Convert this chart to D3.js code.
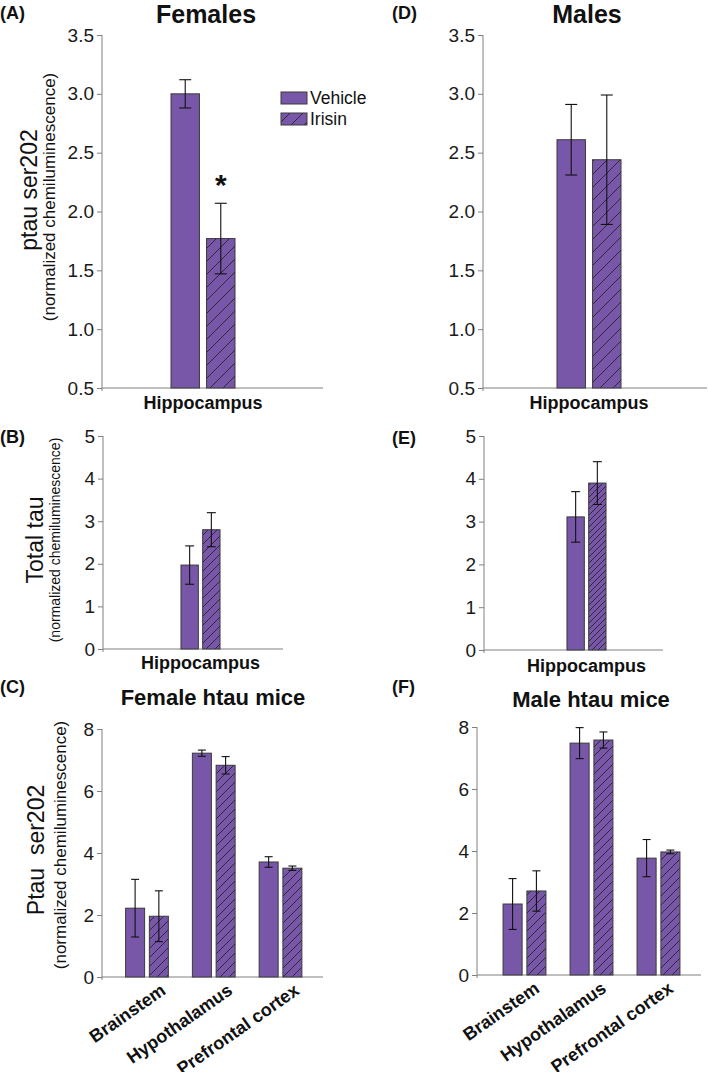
<!DOCTYPE html>
<html>
<head>
<meta charset="utf-8">
<script src="https://cdn.jsdelivr.net/npm/d3@7"></script>
<style>
  html, body { margin: 0; padding: 0; background: #fff; }
  svg { display: block; font-family: "Liberation Sans", Arial, sans-serif; }
</style>
</head>
<body>
<svg id="chart" width="709" height="1072"></svg>
<script>
// ---------------- data ----------------
const series = ["Vehicle", "Irisin"];
const hippoCategory = ["Hippocampus"];
const regions = ["Brainstem", "Hypothalamus", "Prefrontal cortex"];

const ptauTicks = [0.5, 1.0, 1.5, 2.0, 2.5, 3.0, 3.5];
const totalTauTicks = [0, 1, 2, 3, 4, 5];
const htauTicks = [0, 2, 4, 6, 8];

// (A) Females ptau ser202, hippocampus
const femPtauVehicle = [3.00];
const femPtauVehicleErr = [0.12];
const femPtauIrisin = [1.77];
const femPtauIrisinErr = [0.30];

// (D) Males ptau ser202, hippocampus
const malePtauVehicle = [2.61];
const malePtauVehicleErr = [0.30];
const malePtauIrisin = [2.44];
const malePtauIrisinErr = [0.55];

// (B) Females total tau
const femTotalVehicle = [1.97];
const femTotalVehicleErr = [0.45];
const femTotalIrisin = [2.80];
const femTotalIrisinErr = [0.40];

// (E) Males total tau
const maleTotalVehicle = [3.11];
const maleTotalVehicleErr = [0.59];
const maleTotalIrisin = [3.90];
const maleTotalIrisinErr = [0.50];

// (C) Female htau mice
const femHtauVehicle = [2.22, 7.22, 3.71];
const femHtauVehicleErr = [0.93, 0.10, 0.17];
const femHtauIrisin = [1.96, 6.83, 3.51];
const femHtauIrisinErr = [0.82, 0.28, 0.07];

// (F) Male htau mice
const maleHtauVehicle = [2.29, 7.48, 3.77];
const maleHtauVehicleErr = [0.82, 0.50, 0.60];
const maleHtauIrisin = [2.71, 7.58, 3.97];
const maleHtauIrisinErr = [0.65, 0.26, 0.06];

// ---------------- style ----------------
const PURPLE = "#7857a8";
const AXIS = "#808080";
const FONT_BOLD = 700;

const svg = d3.select("#chart");
const defs = svg.append("defs");

function hatch(id, s) {
  const p = defs.append("pattern")
    .attr("id", id).attr("patternUnits", "userSpaceOnUse")
    .attr("width", s).attr("height", s);
  p.append("rect").attr("width", s).attr("height", s).attr("fill", PURPLE);
  p.append("path")
    .attr("d", `M0,${s} L${s},0 M${-s/2},${s/2} L${s/2},${-s/2} M${s/2},${s*1.5} L${s*1.5},${s/2}`)
    .attr("stroke", "#1a1a1a").attr("stroke-width", 0.8).attr("fill", "none");
}
hatch("hA", 13);
hatch("hB", 9);
hatch("hE", 6);
hatch("hC", 9);

function panel(cfg) {
  const g = svg.append("g");
  const y = d3.scaleLinear().domain(cfg.domain).range([cfg.yBottom, cfg.yTop]);
  const x = d3.scaleBand().domain(cfg.cats).range(cfg.groupRange)
    .paddingInner(0.36).paddingOuter(0.18);
  const xs = d3.scaleBand().domain(series).range([0, x.bandwidth()]).paddingInner(cfg.barGap);

  // axes
  const yAxis = d3.axisLeft(y).tickValues(cfg.ticks).tickSize(5).tickPadding(3)
    .tickFormat(cfg.fmt);
  const ya = g.append("g").attr("transform", `translate(${cfg.x0},0)`).call(yAxis);
  ya.attr("font-size", cfg.tickFont).attr("font-family", "'Liberation Sans', Arial, sans-serif");
  ya.select(".domain").remove();
  ya.append("line").attr("x1", 0).attr("x2", 0).attr("y1", cfg.yTop).attr("y2", cfg.yBottom + 3)
    .attr("stroke", AXIS);
  ya.selectAll(".tick line").attr("stroke", AXIS);
  ya.selectAll(".tick text").attr("fill", "#1a1a1a");
  g.append("line").attr("x1", cfg.x0).attr("x2", cfg.x1)
    .attr("y1", cfg.yBottom).attr("y2", cfg.yBottom).attr("stroke", AXIS);

  const rows = [];
  cfg.cats.forEach((c, i) => {
    rows.push({ cat: c, s: "Vehicle", v: cfg.veh[i], e: cfg.vehErr[i] });
    rows.push({ cat: c, s: "Irisin", v: cfg.iri[i], e: cfg.iriErr[i] });
  });

  g.selectAll("rect.bar").data(rows).join("rect")
    .attr("class", "bar")
    .attr("x", d => x(d.cat) + xs(d.s))
    .attr("width", xs.bandwidth())
    .attr("y", d => y(d.v))
    .attr("height", d => cfg.yBottom - y(d.v))
    .attr("fill", d => d.s === "Vehicle" ? PURPLE : `url(#${cfg.hatch})`)
    .attr("stroke", "#3a3a3a").attr("stroke-width", 1);

  const eb = g.selectAll("g.err").data(rows).join("g").attr("class", "err")
    .attr("stroke", "#111").attr("stroke-width", 1.1);
  const cx = d => x(d.cat) + xs(d.s) + xs.bandwidth() / 2;
  const cw = cfg.cap / 2;
  eb.append("line").attr("x1", cx).attr("x2", cx)
    .attr("y1", d => y(d.v + d.e)).attr("y2", d => y(d.v - d.e));
  eb.append("line").attr("x1", d => cx(d) - cw).attr("x2", d => cx(d) + cw)
    .attr("y1", d => y(d.v + d.e)).attr("y2", d => y(d.v + d.e));
  eb.append("line").attr("x1", d => cx(d) - cw).attr("x2", d => cx(d) + cw)
    .attr("y1", d => y(d.v - d.e)).attr("y2", d => y(d.v - d.e));

  // category labels
  if (cfg.rotate) {
    g.selectAll("text.cat").data(cfg.cats).join("text")
      .attr("class", "cat")
      .attr("transform", d => `translate(${x(d) + x.bandwidth() / 2 + cfg.labelDx},${cfg.labelY}) rotate(-35)`)
      .attr("text-anchor", "end")
      .attr("font-size", 18).attr("font-weight", FONT_BOLD).attr("fill", "#111")
      .text(d => d);
  } else {
    g.selectAll("text.cat").data(cfg.cats).join("text")
      .attr("class", "cat")
      .attr("x", d => x(d) + x.bandwidth() / 2)
      .attr("y", cfg.labelY)
      .attr("text-anchor", "middle")
      .attr("font-size", 18).attr("font-weight", FONT_BOLD).attr("fill", "#111")
      .text(d => d);
  }

  // panel letter
  g.append("text").attr("x", cfg.letterX).attr("y", cfg.letterY)
    .attr("font-size", 18).attr("font-weight", FONT_BOLD).attr("fill", "#111").text(cfg.letter);

  if (cfg.title) {
    g.append("text").attr("x", cfg.titleX).attr("y", cfg.titleY).attr("text-anchor", "middle")
      .attr("font-size", cfg.titleSize).attr("font-weight", FONT_BOLD).attr("fill", "#111").text(cfg.title);
  }
  if (cfg.ylabel) {
    g.append("text")
      .attr("transform", `translate(${cfg.ylabel.x},${cfg.ylabel.cy}) rotate(-90)`)
      .attr("text-anchor", "middle").attr("font-size", cfg.ylabel.size).attr("fill", "#111")
      .attr("xml:space", "preserve")
      .text(cfg.ylabel.text);
    g.append("text")
      .attr("transform", `translate(${cfg.ylabel.sx},${cfg.ylabel.scy}) rotate(-90)`)
      .attr("text-anchor", "middle").attr("font-size", cfg.ylabel.ssize).attr("fill", "#111")
      .text("(normalized chemiluminescence)");
  }
  return { g, x, xs, y };
}

const fmt1 = d3.format(".1f");
const fmt0 = d3.format("d");

// (A)
const pA = panel({
  letter: "(A)", letterX: 0, letterY: 19,
  title: "Females", titleX: 206, titleY: 23, titleSize: 25,
  domain: [0.5, 3.5], ticks: ptauTicks, fmt: fmt1, tickFont: 19,
  x0: 102, x1: 323, yTop: 35, yBottom: 388,
  cats: hippoCategory, groupRange: [153, 253], barGap: 0.2, cap: 12,
  veh: femPtauVehicle, vehErr: femPtauVehicleErr, iri: femPtauIrisin, iriErr: femPtauIrisinErr,
  hatch: "hA", labelY: 409,
  ylabel: { text: "ptau ser202", x: 37, cy: 190, size: 23, sx: 55, scy: 197, ssize: 17 }
});
// asterisk
pA.g.append("text")
  .attr("x", pA.x("Hippocampus") + pA.xs("Irisin") + pA.xs.bandwidth() / 2)
  .attr("y", pA.y(femPtauIrisin[0] + femPtauIrisinErr[0]) - 35)
  .attr("dy", "0.9em")
  .attr("text-anchor", "middle").attr("font-size", 30).attr("font-weight", FONT_BOLD)
  .attr("fill", "#111").text("*");

// legend
const legend = pA.g.append("g");
series.forEach((s, i) => {
  legend.append("rect").attr("x", 281).attr("y", 92 + i * 21).attr("width", 26).attr("height", 12)
    .attr("fill", s === "Vehicle" ? PURPLE : "url(#hA)").attr("stroke", "#3a3a3a");
  legend.append("text").attr("x", 310).attr("y", 104 + i * 21)
    .attr("font-size", 17.5).attr("fill", "#111").text(s);
});

// (D)
panel({
  letter: "(D)", letterX: 392, letterY: 19,
  title: "Males", titleX: 587, titleY: 23, titleSize: 25,
  domain: [0.5, 3.5], ticks: ptauTicks, fmt: fmt1, tickFont: 19,
  x0: 483, x1: 707, yTop: 35, yBottom: 388,
  cats: hippoCategory, groupRange: [539, 639], barGap: 0.2, cap: 12,
  veh: malePtauVehicle, vehErr: malePtauVehicleErr, iri: malePtauIrisin, iriErr: malePtauIrisinErr,
  hatch: "hA", labelY: 409
});

// (B)
panel({
  letter: "(B)", letterX: 0, letterY: 443,
  domain: [0, 5], ticks: totalTauTicks, fmt: fmt0, tickFont: 19,
  x0: 103, x1: 283, yTop: 436, yBottom: 649,
  cats: hippoCategory, groupRange: [170, 231], barGap: 0.2, cap: 9,
  veh: femTotalVehicle, vehErr: femTotalVehicleErr, iri: femTotalIrisin, iriErr: femTotalIrisinErr,
  hatch: "hB", labelY: 669,
  ylabel: { text: "Total tau", x: 43, cy: 540, size: 23, sx: 60, scy: 540, ssize: 14 }
});

// (E)
panel({
  letter: "(E)", letterX: 392, letterY: 444,
  domain: [0, 5], ticks: totalTauTicks, fmt: fmt0, tickFont: 19,
  x0: 484, x1: 663, yTop: 436, yBottom: 650,
  cats: hippoCategory, groupRange: [556, 617], barGap: 0.2, cap: 9,
  veh: maleTotalVehicle, vehErr: maleTotalVehicleErr, iri: maleTotalIrisin, iriErr: maleTotalIrisinErr,
  hatch: "hE", labelY: 672
});

// (C)
panel({
  letter: "(C)", letterX: 0, letterY: 693,
  title: "Female htau mice", titleX: 213, titleY: 705, titleSize: 22,
  domain: [0, 8], ticks: htauTicks, fmt: fmt0, tickFont: 19,
  x0: 102, x1: 323, yTop: 729, yBottom: 977,
  cats: regions, groupRange: [113.6, 313.9], barGap: 0.2, cap: 8,
  veh: femHtauVehicle, vehErr: femHtauVehicleErr, iri: femHtauIrisin, iriErr: femHtauIrisinErr,
  hatch: "hC", rotate: true, labelDx: 20, labelY: 993,
  ylabel: { text: "Ptau  ser202", x: 44, cy: 850, size: 23, sx: 66, scy: 845, ssize: 17 }
});

// (F)
panel({
  letter: "(F)", letterX: 392, letterY: 693,
  title: "Male htau mice", titleX: 591, titleY: 707, titleSize: 22,
  domain: [0, 8], ticks: htauTicks, fmt: fmt0, tickFont: 19,
  x0: 477, x1: 701, yTop: 727, yBottom: 975,
  cats: regions, groupRange: [491, 692], barGap: 0.2, cap: 8,
  veh: maleHtauVehicle, vehErr: maleHtauVehicleErr, iri: maleHtauIrisin, iriErr: maleHtauIrisinErr,
  hatch: "hC", rotate: true, labelDx: 16, labelY: 991
});
</script>
</body>
</html>
